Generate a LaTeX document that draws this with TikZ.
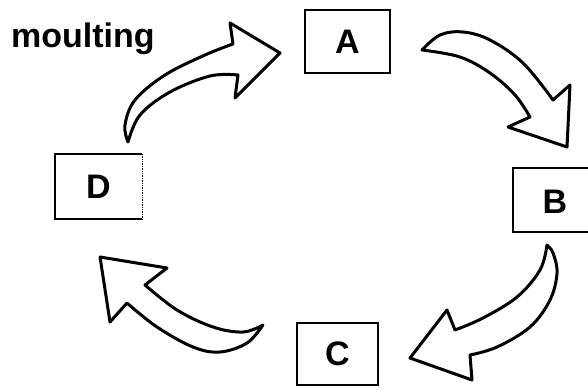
\documentclass[tikz,border=0pt]{standalone}
\usepackage{fontspec}
\setmainfont{Liberation Sans}
\begin{document}
\begin{tikzpicture}[x=1pt,y=-1pt,
  lbl/.style={font=\fontsize{34}{40}\selectfont\bfseries},
  boxn/.style={draw,line width=2.2pt,minimum width=#1,inner sep=0pt,lbl},
  arr/.style={draw,fill=white,line width=3pt,line join=round}]
\useasboundingbox (0,0) rectangle (588,390);
\fill[white] (0,0) rectangle (588,390);
% boxes
\node[boxn=85pt,minimum height=63pt] (A) at (347.5,41.5) {A};
\node[boxn=81pt,minimum height=62pt] (C) at (337.5,354) {C};
\begin{scope}
\clip (0,0) rectangle (588,390);
\node[boxn=100pt,minimum height=64pt] (B) at (563,200) {};
\end{scope}
\node[lbl] (Bt) at (555,202) {B};
\node[minimum width=87pt,minimum height=65pt,inner sep=0pt,lbl] (D) at (98.5,186.5) {D};
\draw[line width=2.2pt] (D.north east) -- (D.north west) -- (D.south west) -- (D.south east);
\draw[line width=1.4pt,densely dotted] (D.north east) -- (D.south east);
\node[lbl,anchor=base west,inner sep=0pt] (m) at (11,48) {moulting};
% D -> A
\draw[arr] plot[smooth,tension=0.6] coordinates {(128,142) (125,125) (135,100) (165,75) (205,55) (233,44)}
  -- (230,23) -- (280,53) -- (235,98) -- (238,75)
  -- plot[smooth,tension=0.6] coordinates {(238,75) (210,76) (170,92) (140,115) (128,142)} -- cycle;
% A -> B
\draw[arr] plot[smooth,tension=0.6] coordinates {(422,50) (440,35) (463,32) (490,40) (523,63) (553,100)}
  -- (570,85) -- (567,147) -- (508,127) -- (530,117)
  -- plot[smooth,tension=0.6] coordinates {(530,117) (515,95) (490,73) (460,57) (422,50)} -- cycle;
% B -> C
\draw[arr] plot[smooth,tension=0.6] coordinates {(547,245) (553,253) (557,273) (550,300) (530,327) (497,347) (470,355)}
  -- (472,380) -- (410,358) -- (447,310) -- (455,330)
  -- plot[smooth,tension=0.6] coordinates {(455,330) (483,318) (517,297) (540,270) (547,245)} -- cycle;
% C -> D
\draw[arr] plot[smooth,tension=0.6] coordinates {(263,325) (247,343) (220,352) (193,347) (157,327) (127,303)}
  -- (110,322) -- (100,257) -- (167,268) -- (145,285)
  -- plot[smooth,tension=0.6] coordinates {(145,285) (177,310) (213,327) (243,332) (263,325)} -- cycle;
\end{tikzpicture}
\end{document}
